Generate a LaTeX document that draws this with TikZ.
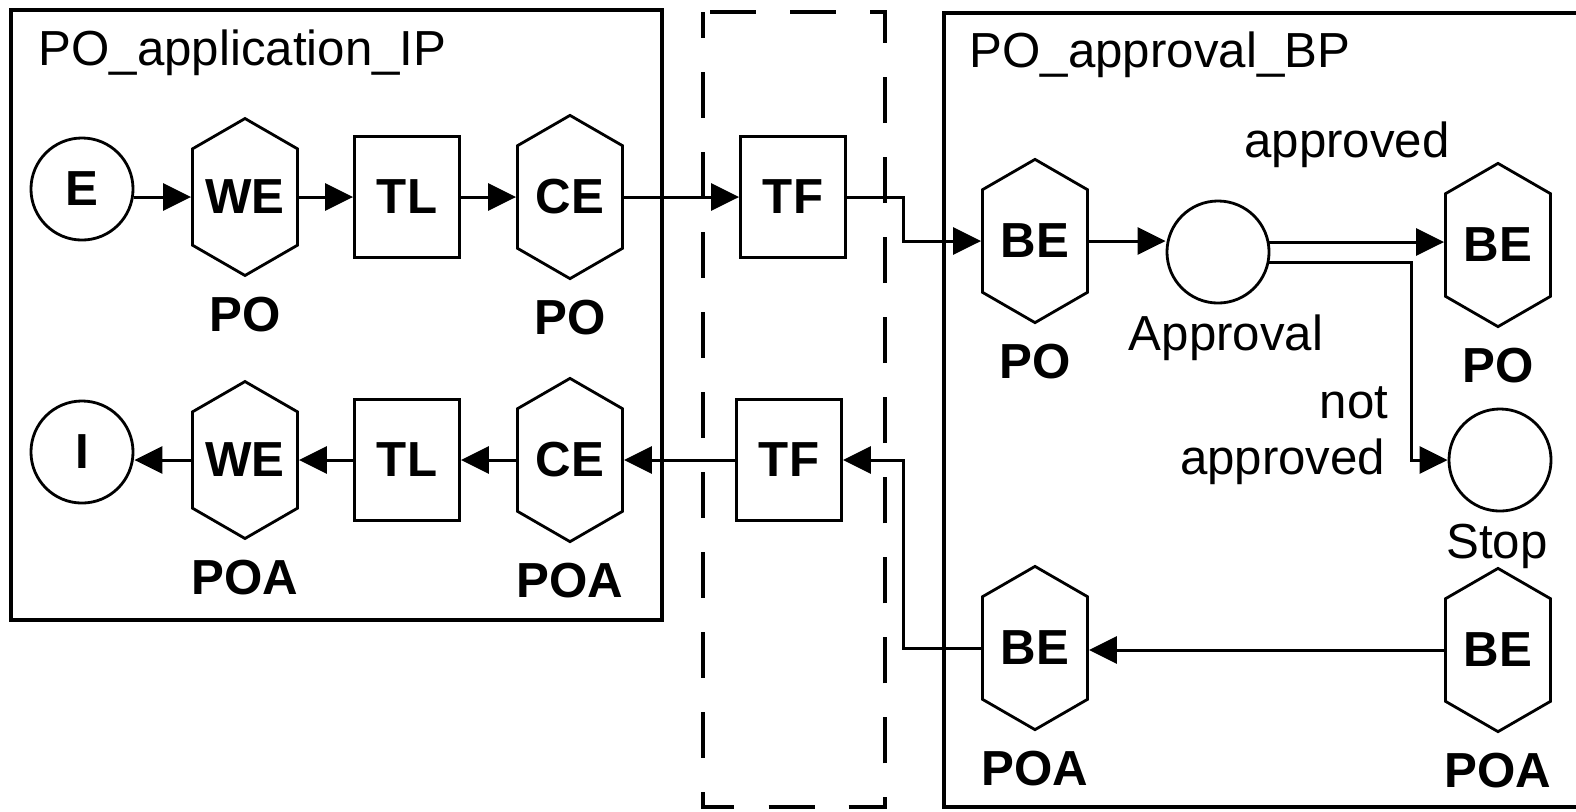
\documentclass[tikz,border=0pt]{standalone}
\usepackage{fontspec}
\setmainfont{Liberation Sans}
\usepackage{tikz}
\usetikzlibrary{
  arrows.meta,
  shapes.symbols,
  calc
}
\newcommand{\lblfont}{\fontsize{14}{16}\selectfont}

\begin{document}
\begin{tikzpicture}[x=0.01cm,y=-0.01cm,
  every node/.style={font=\lblfont},
  hexa/.style={draw,line width=0.8pt,signal,signal to=north and south,
    signal pointer angle=120,minimum width=1.05cm,minimum height=1.42cm,
    inner sep=0pt,font=\lblfont\bfseries},
  task/.style={draw,line width=0.8pt,minimum width=1.05cm,minimum height=1.21cm,
    inner sep=0pt,font=\lblfont\bfseries},
  evt/.style={draw,circle,line width=0.8pt,minimum size=1.02cm,inner sep=0pt,
    font=\lblfont\bfseries},
  tag/.style={inner sep=0pt,font=\lblfont\bfseries},
  txt/.style={inner sep=0pt},
  flow/.style={line width=0.85pt,-{Triangle[length=2.8mm,width=2.7mm]}}]
\useasboundingbox (0,0) rectangle (1576,811);
% process boxes
\draw[line width=0.9pt] (11,10) rectangle (662,620);
\draw[line width=0.9pt,dash pattern=on 0.46cm off 0.34cm,dash phase=0.2cm]
  (703,12) rectangle (885,807);
\draw[line width=0.9pt] (1576,13) -- (944,13) -- (944,807) -- (1576,807);
\node[txt,anchor=base west] (ipname) at (38,65) {PO\_application\_IP};
\node[txt,anchor=base west] (bpname) at (969,67) {PO\_approval\_BP};
% upper row
\node[evt] (E) at (82,189) {E};
\node[hexa] (WEa) at (245,197) {WE};
\node[task] (TLa) at (407,197) {TL};
\node[hexa] (CEa) at (570,197) {CE};
\node[task] (TFa) at (793,197) {TF};
% lower row
\node[evt] (I) at (82,452) {I};
\node[hexa] (WEb) at (245,460) {WE};
\node[task] (TLb) at (407,460) {TL};
\node[hexa] (CEb) at (570,460) {CE};
\node[task] (TFb) at (789,460) {TF};
% approval process
\node[hexa] (BEa) at (1035,241) {BE};
\node[evt] (Approval) at (1218,252) {};
\node[hexa] (BEb) at (1498,245) {BE};
\node[evt] (Stop) at (1500,460) {};
\node[hexa] (BEc) at (1035,648) {BE};
\node[hexa] (BEd) at (1498,650) {BE};
% object labels
\foreach \n/\t in {WEa/PO,CEa/PO,BEa/PO,BEb/PO,WEb/POA,CEb/POA,BEc/POA,BEd/POA}{
  \node[tag] (\n-obj) at ($(\n.south)+(0,37)$) {\t};
}
\node[txt,anchor=base] (okname) at (1347,157) {approved};
\node[txt,anchor=base] (apname) at (1226,350) {Approval};
\node[txt,anchor=base east] (notname) at (1389,418) {not};
\node[txt,anchor=base east] (nokname) at (1386,474) {approved};
\node[txt,anchor=base] (stopname) at (1497,558) {Stop};
% bend points
\coordinate (upbend) at (903,220);
\coordinate (downbend) at (1411,350);
\coordinate (lowbend) at (903,550);
% forward flow
\draw[flow] (E.east |- WEa.west) -- (WEa.west);
\draw[flow] (WEa.east) -- (TLa.west);
\draw[flow] (TLa.east) -- (CEa.west);
\draw[flow] (CEa.east) -- (TFa.west);
\draw[flow] (TFa.east) -| (upbend) |- (BEa.west);
\draw[flow] (BEa.east) -- (BEa.east -| Approval.west);
\draw[flow] (Approval.11) -- (Approval.11 -| BEb.west);
\draw[flow] (Approval.-11) -| (downbend) |- (Stop.west);
% return flow
\draw[flow] (BEd.west) -- (BEd.west -| BEc.east);
\draw[flow] (BEc.west) -| (lowbend) |- (TFb.east);
\draw[flow] (TFb.west) -- (CEb.east);
\draw[flow] (CEb.west) -- (TLb.east);
\draw[flow] (TLb.west) -- (WEb.east);
\draw[flow] (WEb.west) -- (I.east |- WEb.west);
\end{tikzpicture}
\end{document}
